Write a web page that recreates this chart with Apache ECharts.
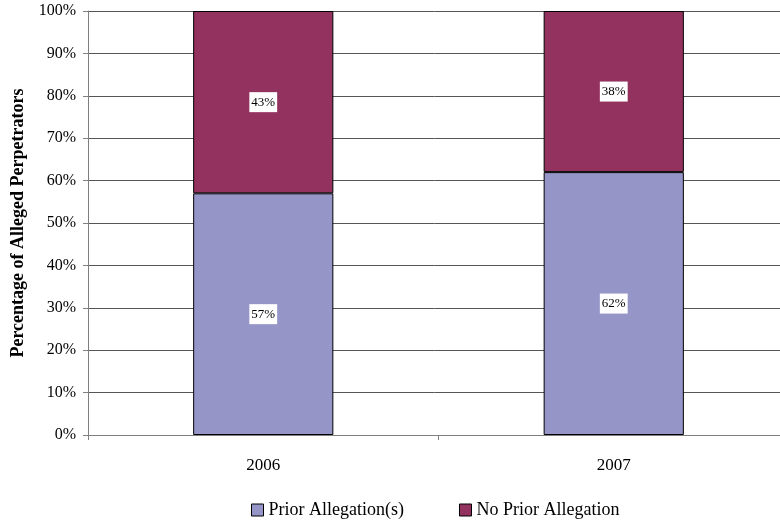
<!DOCTYPE html>
<html><head><meta charset="utf-8">
<script src="https://cdn.jsdelivr.net/npm/echarts@6/dist/echarts.min.js"></script>
<style>html,body{margin:0;padding:0;background:#fff}#c{width:780px;height:520px}</style>
</head><body><div id="c"></div>
<script>
const categories = ['2006', '2007'];
const priorAllegation = [57, 62];
const noPriorAllegation = [43, 38];
const seriesNames = ['Prior Allegation(s)', 'No Prior Allegation'];

const font = '"Liberation Serif", "Times New Roman", serif';
const chart = echarts.init(document.getElementById('c'));
const labelStyle = {
  show: true, position: 'inside', formatter: '{c}%',
  color: '#000', fontFamily: font, fontSize: 13,
  backgroundColor: '#fff', padding: [4, 2, 3, 2]
};
chart.setOption({
  animation: false,
  textStyle: { fontFamily: font },
  grid: { left: 88, width: 701, top: 11, height: 424, outerBoundsMode: 'none', containLabel: false },
  legend: {
    top: 496, left: 246, itemGap: 55,
    itemWidth: 12, itemHeight: 12, icon: 'rect',
    textStyle: { fontFamily: font, fontSize: 18, color: '#000' },
    data: seriesNames.map(n => ({ name: n, itemStyle: { borderColor: '#000', borderWidth: 1 } }))
  },
  xAxis: {
    type: 'category', data: categories,
    axisLine: { lineStyle: { color: '#808080', width: 1 } },
    axisTick: { show: true, length: 5, lineStyle: { color: '#808080' } },
    axisLabel: { color: '#000', fontFamily: font, fontSize: 17, margin: 22 }
  },
  yAxis: {
    type: 'value', min: 0, max: 100, interval: 10,
    name: 'Percentage of Alleged Perpetrators', nameLocation: 'middle', nameGap: 59,
    nameTextStyle: { fontFamily: font, fontSize: 18, fontWeight: 'bold', color: '#000' },
    axisLine: { show: true, lineStyle: { color: '#808080' } },
    axisTick: { show: true, length: 5, lineStyle: { color: '#808080' } },
    axisLabel: { formatter: '{value}%', color: '#000', fontFamily: font, fontSize: 16, margin: 12 },
    splitLine: { lineStyle: { color: '#555', width: 1 } }
  },
  series: [
    {
      name: seriesNames[0], type: 'bar', stack: 't', barWidth: '40%',
      data: priorAllegation,
      itemStyle: { color: '#9595c8', borderColor: '#000', borderWidth: 1 },
      label: labelStyle
    },
    {
      name: seriesNames[1], type: 'bar', stack: 't', barWidth: '40%',
      data: noPriorAllegation,
      itemStyle: { color: '#93325e', borderColor: '#000', borderWidth: 1 },
      label: labelStyle
    }
  ]
});
</script></body></html>
